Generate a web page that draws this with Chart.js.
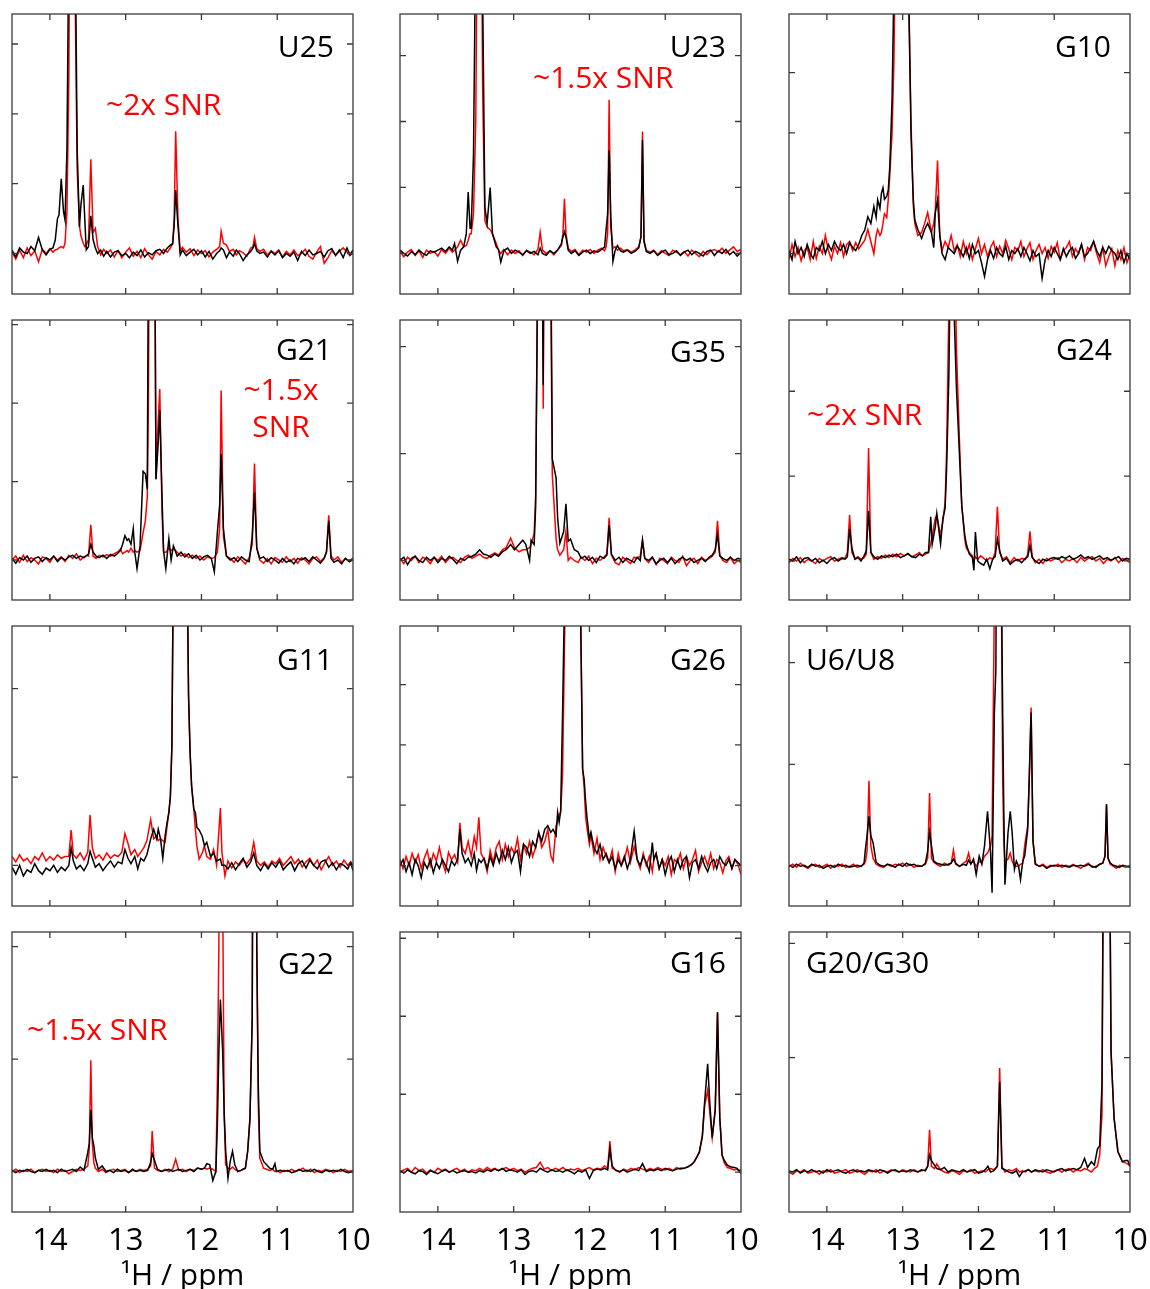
<!DOCTYPE html>
<html>
<head>
<meta charset="utf-8">
<title>Imino 1H spectra</title>
<script src="https://cdn.jsdelivr.net/npm/chart.js@4.4.1/dist/chart.umd.min.js"></script>
<style>
  html, body { margin: 0; padding: 0; background: #fff; overflow: hidden; }
  body { width: 1150px; height: 1289px; position: relative; font-family: 'Open Sans', sans-serif; }
  canvas { position: absolute; }
  .lbl { position: absolute; font-size: 30px; line-height: 1; white-space: nowrap; color: #000; z-index: 2; }
  .snr { color: #ff0000; }
  .two { line-height: 37px; text-align: center; width: 140px; }
  .axt { position: absolute; font-size: 30px; line-height: 1; width: 240px; text-align: center; white-space: nowrap; }
</style>
</head>
<body>
<script>
// ---- data: chemical shift (ppm) per panel, red and black traces in panel units ----
const ppmTicks = [14, 13, 12, 11, 10];
const panelNames = ['U25', 'U23', 'G10', 'G21', 'G35', 'G24', 'G11', 'G26', 'U6/U8', 'G22', 'G16', 'G20/G30'];

const u25Ppm = [14.50, 14.45, 14.40, 14.35, 14.30, 14.25, 14.20, 14.15, 14.10, 14.05,
  14.00, 13.96, 13.93, 13.90, 13.88, 13.85, 13.82, 13.80, 13.775, 13.75,
  13.71, 13.665, 13.64, 13.61, 13.59, 13.56, 13.54, 13.52, 13.49, 13.46,
  13.43, 13.40, 13.37, 13.33, 13.29, 13.25, 13.20, 13.15, 13.10, 13.05,
  13.00, 12.95, 12.90, 12.85, 12.80, 12.75, 12.70, 12.65, 12.60, 12.55,
  12.50, 12.45, 12.41, 12.38, 12.36, 12.34, 12.31, 12.28, 12.25, 12.20,
  12.15, 12.10, 12.05, 12.00, 11.95, 11.90, 11.85, 11.80, 11.76, 11.74,
  11.71, 11.67, 11.63, 11.58, 11.54, 11.50, 11.45, 11.40, 11.35, 11.32,
  11.30, 11.27, 11.23, 11.18, 11.13, 11.08, 11.03, 10.98, 10.93, 10.88,
  10.83, 10.78, 10.73, 10.68, 10.63, 10.58, 10.53, 10.48, 10.43, 10.38,
  10.33, 10.28, 10.23, 10.18, 10.13, 10.08, 10.04, 10.00];
const u25Red = [0.02, -0.08, 0.05, -0.06, 0.08, -0.03, 0.04, -0.12, 0.06, 0.00,
  0.07, 0.02, 0.05, 0.06, 0.08, 0.10, 0.08, 0.15, 0.6, 2.5,
  10, 3.5, 1.2, 0.4, 0.25, 0.15, 0.1, 0.12, 0.2, 1.35,
  0.3, 0.36, 0.1, -0.02, 0.06, 0.0, 0.05, -0.05, 0.04, -0.06,
  0.02, 0.08, -0.04, 0.03, -0.06, 0.07, -0.02, -0.08, 0.03, -0.02,
  0.06, 0.02, 0.08, 0.14, 0.5, 1.75, 0.5, 0.04, 0.09, 0.02,
  0.07, -0.03, 0.05, 0.0, 0.04, -0.05, 0.02, 0.06, 0.1, 0.32,
  0.15, 0.12, 0.03, 0.06, -0.02, 0.04, 0.01, -0.04, 0.08, 0.1,
  0.23, 0.07, 0.03, 0.06, -0.02, 0.04, 0.0, 0.05, -0.05, 0.03,
  -0.02, 0.05, -0.03, 0.0, 0.06, -0.04, -0.08, 0.02, 0.1, -0.14,
  -0.06, 0.04, -0.02, 0.03, 0.08, 0.02, -0.03, 0.01];
const u25Black = [0.05, -0.05, 0.08, 0.02, 0.0, 0.1, 0.04, 0.23, 0.05, -0.02,
  0.06, 0.08, 0.19, 0.5, 0.55, 1.07, 0.6, 0.48, 1.5, 4.5,
  10, 4.5, 1.5, 0.38, 0.7, 0.98, 0.5, 0.05, 0.1, 0.54,
  0.2, 0.08, 0.0, 0.05, -0.04, 0.03, -0.05, 0.02, 0.04, -0.03,
  0.0, -0.06, 0.02, -0.03, 0.05, -0.05, 0.01, -0.02, 0.04, 0.06,
  0.0, 0.08, 0.12, 0.14, 0.4, 0.91, 0.4, -0.02, 0.05, -0.03,
  0.02, 0.06, -0.02, 0.04, -0.05, 0.03, -0.08, 0.0, 0.04, 0.08,
  0.05, -0.06, 0.02, -0.04, 0.05, 0.0, -0.1, -0.02, 0.03, 0.08,
  0.14, 0.04, 0.0, 0.02, -0.05, 0.03, -0.02, 0.04, -0.06, 0.0,
  -0.04, 0.02, -0.1, 0.03, -0.03, 0.05, -0.02, 0.0, 0.03, -0.05,
  0.04, 0.07, -0.03, 0.05, -0.06, 0.08, -0.02, 0.05];

const u23Ppm = [14.50, 14.45, 14.40, 14.35, 14.30, 14.25, 14.20, 14.15, 14.10, 14.05,
  14.00, 13.95, 13.90, 13.85, 13.81, 13.78, 13.74, 13.70, 13.66, 13.625,
  13.60, 13.575, 13.56, 13.53, 13.50, 13.45, 13.41, 13.38, 13.35, 13.31,
  13.28, 13.23, 13.20, 13.17, 13.13, 13.08, 13.03, 12.98, 12.93, 12.88,
  12.83, 12.78, 12.73, 12.68, 12.65, 12.62, 12.57, 12.52, 12.47, 12.42,
  12.37, 12.35, 12.33, 12.31, 12.28, 12.24, 12.19, 12.14, 12.09, 12.04,
  11.99, 11.94, 11.89, 11.84, 11.80, 11.78, 11.76, 11.74, 11.72, 11.69,
  11.66, 11.63, 11.59, 11.55, 11.50, 11.45, 11.40, 11.35, 11.32, 11.30,
  11.28, 11.25, 11.20, 11.15, 11.10, 11.05, 11.00, 10.95, 10.90, 10.85,
  10.80, 10.75, 10.70, 10.65, 10.60, 10.55, 10.50, 10.45, 10.40, 10.35,
  10.30, 10.25, 10.20, 10.15, 10.10, 10.05, 10.00];
const u23Red = [0.03, -0.05, 0.02, 0.06, -0.03, 0.04, -0.06, 0.05, 0.0, 0.03,
  -0.04, 0.06, 0.0, 0.08, 0.02, 0.05, 0.1, 0.2, 0.1, 0.12,
  0.2, 0.3, 0.3, 0.6, 2.0, 10, 2.5, 0.5, 0.4, 0.36,
  0.3, 0.15, 0.05, 0.0, 0.06, -0.02, 0.05, 0.0, 0.04, -0.03,
  0.05, 0.02, -0.02, 0.06, 0.32, 0.05, 0.0, 0.04, -0.02, 0.05,
  0.12, 0.3, 0.83, 0.3, 0.08, 0.03, 0.06, -0.02, 0.05, 0.02,
  0.06, 0.0, 0.05, 0.08, 0.04, 0.1, 0.3, 2.33, 0.4, 0.08,
  0.1, 0.05, 0.08, 0.04, 0.06, 0.02, 0.05, 0.1, 0.25, 1.85,
  0.2, 0.05, 0.02, 0.05, -0.02, 0.04, 0.0, -0.03, 0.05, 0.02,
  -0.02, 0.03, -0.04, 0.05, 0.0, -0.05, 0.03, -0.02, 0.04, 0.06,
  0.02, 0.08, 0.0, 0.05, 0.1, 0.03, 0.06];
const u23Black = [0.05, 0.0, -0.04, 0.03, -0.02, 0.05, 0.0, -0.03, 0.04, 0.02,
  0.05, 0.08, 0.03, 0.1, 0.05, 0.15, -0.12, 0.05, 0.1, 0.3,
  0.93, 0.38, 0.38, 1.5, 5, 10, 4, 0.7, 0.46, 1.0,
  0.3, 0.1, 0.06, -0.13, 0.04, 0.08, 0.0, 0.05, 0.02, -0.02,
  0.04, 0.0, 0.03, -0.02, 0.08, 0.0, -0.03, 0.04, 0.0, 0.05,
  0.15, 0.25, 0.33, 0.25, 0.05, 0.0, 0.04, -0.03, 0.02, 0.05,
  0.0, 0.04, 0.02, 0.06, 0.1, 0.36, 0.6, 1.56, 0.6, -0.12,
  0.05, 0.12, 0.04, 0.02, 0.05, 0.0, 0.03, 0.08, 0.25, 1.72,
  0.18, 0.03, 0.0, 0.04, -0.03, 0.02, 0.05, -0.02, 0.0, 0.04,
  -0.03, 0.02, 0.05, -0.02, 0.03, 0.0, -0.04, 0.03, 0.05, -0.03,
  0.04, 0.0, 0.06, -0.02, 0.03, -0.04, 0.02];

const g10Ppm = [14.50, 14.46, 14.42, 14.38, 14.34, 14.30, 14.26, 14.22, 14.18, 14.14,
  14.10, 14.06, 14.02, 13.98, 13.94, 13.90, 13.86, 13.82, 13.78, 13.74,
  13.70, 13.66, 13.62, 13.58, 13.54, 13.50, 13.46, 13.42, 13.38, 13.35,
  13.33, 13.30, 13.28, 13.26, 13.24, 13.21, 13.19, 13.17, 13.14, 13.115,
  13.03, 12.93, 12.89, 12.86, 12.84, 12.80, 12.75, 12.71, 12.67, 12.62,
  12.59, 12.57, 12.54, 12.51, 12.48, 12.44, 12.40, 12.36, 12.32, 12.28,
  12.24, 12.20, 12.16, 12.12, 12.08, 12.04, 12.00, 11.96, 11.92, 11.88,
  11.84, 11.80, 11.76, 11.72, 11.68, 11.64, 11.60, 11.56, 11.52, 11.48,
  11.44, 11.40, 11.36, 11.32, 11.28, 11.24, 11.20, 11.16, 11.12, 11.08,
  11.04, 11.00, 10.96, 10.92, 10.88, 10.84, 10.80, 10.76, 10.72, 10.68,
  10.64, 10.60, 10.56, 10.52, 10.48, 10.44, 10.40, 10.36, 10.32, 10.28,
  10.24, 10.20, 10.16, 10.12, 10.08, 10.04, 10.00];
const g10Red = [-0.1, 0.15, -0.05, 0.1, -0.12, 0.05, 0.1, -0.1, 0.2, -0.08,
  0.12, 0.0, 0.3, 0.05, -0.1, 0.12, 0.0, 0.18, -0.05, 0.15,
  0.2, 0.05, 0.18, 0.08, 0.15, 0.22, 0.4, 0.2, 0.0, 0.3,
  0.4, 0.3, 0.35, 0.5, 0.66, 0.6, 0.9, 1.3, 2.0, 3.2,
  12, 5, 2.2, 0.8, 0.5, 0.3, 0.35, 0.5, 0.68, 0.35,
  0.5, 0.7, 1.54, 0.3, 0.05, 0.2, 0.1, 0.3, 0.05, 0.15,
  -0.05, 0.2, 0.0, 0.15, -0.1, 0.08, 0.25, 0.0, 0.15, -0.05,
  0.1, 0.2, -0.05, 0.12, 0.0, 0.22, 0.08, -0.1, 0.1, 0.05,
  0.2, -0.05, 0.08, 0.18, -0.1, 0.05, 0.15, 0.0, 0.1, -0.08,
  0.12, 0.02, 0.18, -0.1, 0.05, 0.1, 0.2, -0.05, 0.08, 0.0,
  0.15, -0.1, 0.1, 0.05, 0.2, 0.0, -0.15, 0.1, -0.2, -0.05,
  0.08, -0.2, 0.05, -0.1, 0.1, -0.15, 0.0];
const g10Black = [0.05, -0.1, 0.2, 0.0, 0.1, -0.05, 0.15, 0.0, -0.08, 0.1,
  0.05, 0.2, 0.0, 0.15, 0.05, 0.2, 0.1, 0.05, 0.15, 0.0,
  0.18, 0.1, 0.05, 0.15, 0.3, 0.39, 0.61, 0.5, 0.78, 0.6,
  0.89, 0.75, 1.0, 1.09, 0.9, 0.95, 1.05, 1.44, 2.55, 4.5,
  12, 5, 2.0, 0.9, 0.56, 0.4, 0.25, 0.4, 0.5, 0.35,
  0.1, 0.67, 0.89, 0.3, 0.0, -0.1, 0.1, 0.05, 0.0, 0.12,
  0.05, -0.05, 0.1, -0.08, 0.15, 0.0, 0.05, -0.15, -0.38, -0.1,
  0.05, -0.08, 0.1, 0.0, -0.05, 0.12, -0.1, 0.05, 0.0, 0.08,
  -0.05, 0.1, 0.0, -0.12, 0.05, -0.05, 0.0, -0.41, -0.1, 0.05,
  -0.05, 0.1, 0.0, -0.1, 0.08, -0.05, 0.05, 0.1, -0.08, 0.0,
  0.15, -0.05, 0.0, 0.1, 0.2, 0.05, -0.05, 0.1, 0.0, 0.12,
  0.05, 0.0, -0.1, 0.05, -0.15, 0.0, -0.1];

const g21Ppm = [14.50, 14.45, 14.40, 14.35, 14.30, 14.25, 14.20, 14.15, 14.10, 14.05,
  14.00, 13.95, 13.90, 13.85, 13.80, 13.75, 13.70, 13.65, 13.60, 13.55,
  13.51, 13.49, 13.46, 13.43, 13.39, 13.35, 13.30, 13.25, 13.20, 13.15,
  13.11, 13.07, 13.04, 13.01, 12.98, 12.96, 12.93, 12.90, 12.88, 12.85,
  12.81, 12.77, 12.74, 12.715, 12.70, 12.65, 12.615, 12.60, 12.57, 12.55,
  12.52, 12.50, 12.47, 12.43, 12.40, 12.37, 12.32, 12.27, 12.22, 12.17,
  12.12, 12.07, 12.02, 11.97, 11.92, 11.87, 11.83, 11.79, 11.76, 11.74,
  11.71, 11.67, 11.62, 11.57, 11.52, 11.47, 11.42, 11.37, 11.33, 11.30,
  11.27, 11.23, 11.18, 11.13, 11.08, 11.03, 10.98, 10.93, 10.88, 10.83,
  10.78, 10.73, 10.68, 10.63, 10.58, 10.53, 10.48, 10.43, 10.38, 10.35,
  10.32, 10.29, 10.25, 10.20, 10.15, 10.10, 10.05, 10.00];
const g21Red = [0.0, 0.05, -0.03, 0.06, -0.02, 0.03, 0.0, -0.05, 0.04, 0.02,
  -0.03, 0.05, 0.0, 0.04, -0.02, 0.06, 0.02, 0.08, 0.0, 0.04,
  0.06, 0.05, 0.45, 0.05, 0.02, 0.06, 0.04, 0.07, 0.05, 0.08,
  0.1, 0.14, 0.08, 0.1, 0.12, 0.1, 0.15, 0.1, 0.12, 0.1,
  0.12, 0.35, 0.5, 0.8, 2.0, 12, 4, 1.03, 1.8, 2.18,
  0.6, 0.1, 0.1, 0.15, 0.12, 0.15, 0.1, 0.05, 0.08, 0.03,
  0.06, 0.02, 0.05, 0.0, 0.04, 0.02, 0.03, 0.1, 0.4, 2.16,
  0.3, 0.05, 0.02, -0.03, 0.04, 0.0, -0.05, 0.03, 0.2, 1.23,
  0.15, 0.0, -0.04, 0.02, -0.05, 0.03, 0.0, -0.03, 0.04, -0.02,
  0.02, -0.04, 0.03, 0.0, -0.05, 0.02, 0.04, -0.02, 0.03, 0.1,
  0.57, 0.05, 0.0, 0.04, -0.03, 0.02, -0.02, 0.03];
const g21Black = [0.02, -0.04, 0.03, 0.0, 0.05, -0.03, 0.02, 0.04, -0.02, 0.03,
  0.0, 0.05, -0.02, 0.03, 0.0, 0.04, 0.06, 0.02, 0.05, 0.03,
  0.06, 0.08, 0.2, 0.1, 0.05, 0.03, 0.06, 0.02, 0.07, 0.05,
  0.08, 0.12, 0.2, 0.31, 0.25, 0.27, 0.2, 0.4, 0.1, -0.11,
  0.18, 1.13, 1.1, 0.9, 4, 12, 4, 1.03, 1.5, 1.91,
  0.8, 0.12, -0.11, 0.27, 0.0, 0.18, 0.05, 0.1, 0.04, 0.08,
  0.02, 0.06, 0.0, 0.04, 0.06, 0.02, -0.15, 0.35, 0.7, 1.35,
  0.4, 0.05, 0.0, 0.03, -0.02, 0.04, 0.0, -0.02, 0.3, 0.86,
  0.15, 0.02, 0.04, -0.02, 0.03, 0.0, -0.04, 0.02, -0.03, 0.0,
  -0.05, 0.02, 0.0, 0.03, -0.02, 0.04, 0.0, -0.04, 0.02, 0.1,
  0.5, 0.02, -0.03, 0.0, -0.05, 0.02, -0.02, 0.0];

const g35Ppm = [14.50, 14.45, 14.40, 14.35, 14.30, 14.25, 14.20, 14.15, 14.10, 14.05,
  14.00, 13.95, 13.90, 13.85, 13.80, 13.75, 13.70, 13.65, 13.60, 13.55,
  13.50, 13.45, 13.40, 13.35, 13.30, 13.25, 13.20, 13.15, 13.10, 13.04,
  12.99, 12.93, 12.88, 12.84, 12.79, 12.77, 12.73, 12.71, 12.68, 12.65,
  12.61, 12.59, 12.54, 12.51, 12.49, 12.44, 12.42, 12.39, 12.34, 12.31,
  12.28, 12.25, 12.20, 12.15, 12.11, 12.06, 12.01, 11.96, 11.91, 11.86,
  11.81, 11.77, 11.74, 11.71, 11.66, 11.61, 11.56, 11.51, 11.46, 11.41,
  11.37, 11.33, 11.30, 11.27, 11.22, 11.17, 11.12, 11.07, 11.02, 10.97,
  10.92, 10.87, 10.82, 10.77, 10.72, 10.67, 10.62, 10.57, 10.52, 10.47,
  10.42, 10.38, 10.34, 10.31, 10.28, 10.24, 10.19, 10.14, 10.09, 10.04,
  10.00];
const g35Red = [0.02, -0.03, 0.03, 0.0, 0.04, -0.02, 0.03, 0.01, -0.03, 0.03,
  0.0, 0.04, -0.02, 0.02, 0.03, 0.0, -0.02, 0.03, 0.05, 0.02,
  0.04, 0.06, 0.03, 0.02, 0.05, 0.07, 0.05, 0.1, 0.12, 0.21,
  0.12, 0.08, 0.1, 0.1, 0.12, 0.15, 0.25, 0.6, 3, 6,
  1.42, 5, 6, 2.5, 0.8, 0.2, 0.1, 0.05, 0.1, 0.27,
  0.0, 0.03, 0.0, -0.02, 0.03, 0.0, 0.04, -0.03, 0.02, 0.0,
  0.03, 0.06, 0.4, 0.05, -0.02, -0.04, 0.03, 0.0, -0.03, 0.03,
  0.02, 0.04, 0.19, 0.02, -0.02, 0.03, -0.04, 0.02, 0.0, -0.03,
  0.03, 0.0, -0.02, 0.04, -0.05, 0.0, 0.02, -0.03, 0.03, 0.0,
  0.02, 0.04, 0.08, 0.37, 0.05, 0.0, -0.02, 0.03, -0.03, 0.0,
  -0.02];
const g35Black = [0.0, 0.03, -0.04, 0.02, 0.04, 0.0, -0.02, 0.03, 0.0, 0.03,
  -0.02, 0.02, 0.0, 0.04, 0.01, -0.03, 0.02, 0.0, 0.03, 0.04,
  0.06, 0.1, 0.06, 0.05, 0.03, 0.06, 0.04, 0.08, 0.1, 0.15,
  0.1, 0.15, 0.19, 0.15, 0.0, 0.19, 0.15, 0.5, 3, 6,
  1.64, 5, 6, 3, 0.95, 0.77, 0.4, 0.16, 0.27, 0.53,
  0.18, 0.2, 0.1, 0.08, 0.02, 0.04, 0.0, 0.03, -0.02, 0.04,
  0.02, 0.05, 0.33, 0.06, 0.0, 0.03, -0.02, 0.02, 0.0, -0.02,
  0.03, 0.0, 0.19, 0.02, 0.0, 0.03, -0.03, 0.0, 0.02, -0.02,
  0.02, -0.03, 0.01, 0.03, 0.0, 0.02, -0.02, 0.0, 0.02, -0.01,
  0.03, 0.05, 0.1, 0.24, 0.04, 0.02, 0.0, 0.03, 0.0, 0.02,
  0.01];

const g24Ppm = [14.50, 14.45, 14.40, 14.35, 14.30, 14.25, 14.20, 14.15, 14.10, 14.05,
  14.00, 13.95, 13.90, 13.85, 13.80, 13.76, 13.73, 13.70, 13.67, 13.63,
  13.59, 13.55, 13.51, 13.48, 13.45, 13.42, 13.38, 13.33, 13.28, 13.23,
  13.18, 13.13, 13.08, 13.03, 12.98, 12.93, 12.88, 12.83, 12.78, 12.74,
  12.70, 12.66, 12.63, 12.61, 12.57, 12.55, 12.50, 12.47, 12.44, 12.42,
  12.39, 12.35, 12.32, 12.29, 12.25, 12.22, 12.18, 12.16, 12.12, 12.08,
  12.06, 12.04, 12.01, 11.97, 11.93, 11.89, 11.85, 11.81, 11.78, 11.75,
  11.72, 11.68, 11.63, 11.58, 11.53, 11.48, 11.43, 11.38, 11.35, 11.32,
  11.29, 11.25, 11.20, 11.15, 11.10, 11.05, 11.00, 10.95, 10.90, 10.85,
  10.80, 10.75, 10.70, 10.65, 10.60, 10.55, 10.50, 10.45, 10.40, 10.35,
  10.30, 10.25, 10.20, 10.15, 10.10, 10.05, 10.00];
const g24Red = [-0.02, 0.03, 0.0, 0.04, -0.02, 0.02, 0.0, -0.03, 0.03, 0.0,
  0.03, 0.05, 0.0, 0.02, 0.04, 0.03, 0.1, 0.54, 0.1, 0.03,
  0.05, 0.02, 0.04, 0.08, 1.33, 0.1, 0.02, 0.05, 0.03, 0.07,
  0.04, 0.08, 0.05, 0.09, 0.06, 0.08, 0.05, 0.07, 0.1, 0.06,
  0.08, 0.1, 0.2, 0.3, 0.5, 0.54, 0.3, 0.46, 0.69, 1.3,
  3.0, 8, 4, 2.5, 1.4, 0.65, 0.25, 0.15, 0.1, 0.06,
  0.0, 0.05, 0.02, 0.06, 0.03, 0.0, 0.04, 0.02, 0.1, 0.64,
  0.1, 0.02, 0.05, -0.02, 0.04, 0.0, 0.03, 0.02, 0.08, 0.35,
  0.05, -0.02, 0.02, -0.03, 0.03, 0.0, 0.02, 0.04, -0.02, 0.02,
  0.0, 0.03, -0.02, 0.04, 0.0, 0.03, 0.05, 0.0, 0.03, -0.03,
  0.02, 0.0, 0.04, -0.02, 0.03, 0.01, -0.02];
const g24Black = [0.02, 0.0, 0.05, -0.02, 0.03, 0.04, 0.0, 0.03, -0.02, 0.01,
  -0.03, 0.02, 0.04, 0.0, 0.03, 0.02, 0.05, 0.38, 0.15, 0.02,
  0.04, 0.0, 0.06, 0.12, 0.59, 0.1, 0.05, 0.02, 0.06, 0.04,
  0.07, 0.05, 0.08, 0.04, 0.06, 0.09, 0.05, 0.04, 0.08, 0.06,
  0.1, 0.1, 0.52, 0.2, 0.4, 0.56, 0.2, 0.5, 0.62, 1.09,
  2.2, 5, 2.9, 2.03, 1.24, 0.65, 0.3, 0.2, 0.08, 0.04,
  -0.11, 0.34, 0.0, -0.03, -0.05, 0.02, -0.09, 0.03, 0.05, 0.26,
  0.12, 0.0, 0.03, -0.04, 0.0, 0.02, -0.02, 0.03, 0.05, 0.18,
  0.04, 0.0, -0.03, 0.02, 0.0, 0.03, 0.04, 0.02, 0.05, 0.03,
  0.06, 0.02, 0.04, 0.07, 0.03, 0.05, 0.02, 0.04, 0.06, 0.02,
  0.04, 0.01, 0.03, 0.05, 0.0, 0.03, 0.02];

const g11Ppm = [14.50, 14.45, 14.40, 14.35, 14.30, 14.25, 14.20, 14.15, 14.10, 14.05,
  14.00, 13.95, 13.90, 13.85, 13.80, 13.75, 13.72, 13.69, 13.65, 13.60,
  13.55, 13.50, 13.47, 13.44, 13.40, 13.35, 13.30, 13.25, 13.20, 13.15,
  13.10, 13.05, 13.01, 12.97, 12.93, 12.88, 12.84, 12.80, 12.76, 12.72,
  12.67, 12.63, 12.59, 12.57, 12.54, 12.51, 12.48, 12.46, 12.43, 12.41,
  12.39, 12.37, 12.28, 12.19, 12.17, 12.15, 12.13, 12.10, 12.08, 12.06,
  12.03, 11.99, 11.96, 11.93, 11.88, 11.84, 11.80, 11.75, 11.73, 11.69,
  11.65, 11.60, 11.55, 11.50, 11.45, 11.40, 11.35, 11.31, 11.27, 11.22,
  11.17, 11.12, 11.07, 11.02, 10.97, 10.92, 10.87, 10.82, 10.77, 10.72,
  10.67, 10.62, 10.57, 10.52, 10.47, 10.42, 10.37, 10.32, 10.27, 10.22,
  10.17, 10.12, 10.07, 10.03, 10.00];
const g11Red = [0.1, 0.04, 0.12, 0.05, 0.08, 0.02, 0.1, 0.06, 0.14, 0.05,
  0.1, 0.06, 0.12, 0.08, 0.1, 0.1, 0.4, 0.12, 0.08, 0.14,
  0.06, 0.15, 0.57, 0.2, 0.08, 0.12, 0.06, 0.14, 0.08, 0.12,
  0.1, 0.15, 0.36, 0.25, 0.12, 0.18, 0.1, 0.15, 0.2, 0.28,
  0.52, 0.3, 0.33, 0.28, 0.3, 0.28, 0.26, 0.4, 0.6, 0.78,
  1.35, 3.5, 12, 3.5, 1.92, 1.28, 0.9, 0.63, 0.41, 0.22,
  0.07, 0.14, 0.22, 0.1, 0.07, 0.18, 0.0, 0.65, 0.15, -0.12,
  0.05, -0.03, 0.04, 0.0, 0.06, 0.02, 0.08, 0.26, 0.05, 0.0,
  0.04, -0.02, 0.05, 0.02, 0.08, 0.0, 0.05, 0.1, 0.02, 0.07,
  -0.02, 0.04, 0.08, 0.0, 0.06, -0.05, 0.03, 0.1, 0.0, 0.05,
  -0.02, 0.06, 0.0, 0.04, 0.0];
const g11Black = [-0.02, -0.1, 0.0, -0.12, -0.05, -0.08, 0.02, -0.06, -0.1, -0.03,
  -0.06, 0.0, -0.08, -0.02, -0.06, 0.0, 0.2, 0.05, -0.04, 0.0,
  -0.06, 0.02, 0.16, 0.08, -0.02, 0.02, -0.06, 0.0, 0.05, -0.02,
  0.04, 0.02, 0.18, 0.08, 0.02, 0.1, -0.04, 0.08, 0.05, 0.12,
  0.3, 0.41, 0.3, 0.41, 0.3, 0.08, 0.33, 0.45, 0.6, 0.78,
  1.35, 3.5, 12, 3.5, 1.92, 1.28, 0.9, 0.63, 0.6, 0.43,
  0.4, 0.33, 0.22, 0.26, 0.1, 0.14, 0.05, 0.07, 0.0, 0.0,
  -0.04, 0.03, -0.05, 0.02, 0.08, -0.02, 0.04, 0.14, 0.0, -0.06,
  0.02, -0.04, 0.03, -0.02, 0.05, -0.05, 0.0, 0.04, -0.06, 0.02,
  0.05, -0.03, 0.06, 0.0, -0.04, 0.04, 0.06, -0.02, 0.03, -0.05,
  0.02, 0.0, -0.04, 0.03, -0.06];

const g26Ppm = [14.50, 14.46, 14.42, 14.38, 14.34, 14.30, 14.26, 14.22, 14.18, 14.14,
  14.10, 14.06, 14.02, 13.98, 13.94, 13.90, 13.86, 13.82, 13.78, 13.74,
  13.71, 13.68, 13.64, 13.60, 13.56, 13.52, 13.49, 13.46, 13.43, 13.39,
  13.35, 13.31, 13.27, 13.23, 13.19, 13.15, 13.11, 13.07, 13.03, 12.99,
  12.95, 12.91, 12.87, 12.83, 12.79, 12.75, 12.71, 12.67, 12.63, 12.59,
  12.55, 12.51, 12.48, 12.44, 12.42, 12.40, 12.38, 12.355, 12.23, 12.12,
  12.09, 12.07, 12.05, 12.03, 12.00, 11.98, 11.94, 11.90, 11.86, 11.82,
  11.78, 11.74, 11.70, 11.66, 11.62, 11.58, 11.54, 11.50, 11.46, 11.41,
  11.37, 11.33, 11.29, 11.25, 11.21, 11.17, 11.15, 11.12, 11.08, 11.04,
  11.00, 10.96, 10.92, 10.88, 10.84, 10.80, 10.76, 10.72, 10.68, 10.64,
  10.60, 10.56, 10.52, 10.48, 10.44, 10.40, 10.36, 10.32, 10.28, 10.24,
  10.20, 10.16, 10.12, 10.08, 10.04, 10.00];
const g26Red = [0.1, -0.05, 0.15, 0.0, 0.2, 0.05, 0.18, -0.05, 0.12, 0.25,
  0.0, 0.2, 0.08, 0.3, 0.05, -0.1, 0.22, 0.1, 0.18, 0.05,
  0.71, 0.3, 0.2, 0.4, 0.15, 0.48, 0.3, 0.8, 0.2, 0.1,
  -0.1, 0.25, 0.05, 0.3, 0.4, 0.1, 0.35, 0.15, 0.3, 0.2,
  0.45, 0.1, 0.35, 0.2, 0.4, 0.15, 0.3, 0.55, 0.3, 0.4,
  0.6, 0.16, 0.07, 0.66, 0.75, 0.85, 0.88, 1.5, 12, 4.5,
  1.6, 1.3, 0.8, 0.6, 0.35, 0.5, 0.2, 0.45, 0.1, 0.3,
  0.15, 0.05, 0.25, -0.1, 0.2, 0.0, 0.1, 0.3, 0.05, 0.32,
  0.1, -0.05, 0.2, 0.0, 0.15, -0.1, 0.1, 0.2, -0.05, 0.1,
  0.0, 0.15, -0.15, 0.1, 0.05, 0.2, -0.05, 0.15, 0.0, 0.1,
  0.25, -0.1, 0.05, 0.15, 0.0, 0.2, -0.05, 0.1, 0.05, -0.12,
  0.08, 0.15, -0.05, 0.1, 0.02, -0.15];
const g26Black = [0.0, 0.1, -0.1, 0.05, -0.15, 0.1, 0.0, -0.2, 0.05, -0.05,
  0.1, -0.12, 0.05, -0.05, 0.1, 0.0, -0.1, 0.08, 0.0, 0.1,
  0.6, 0.2, 0.05, 0.12, 0.0, 0.2, -0.08, 0.1, 0.05, 0.12,
  -0.05, 0.15, 0.0, 0.2, 0.05, 0.25, 0.1, 0.3, 0.05, 0.2,
  0.25, -0.1, 0.35, 0.3, 0.15, 0.4, 0.3, 0.55, 0.4, 0.6,
  0.66, 0.55, 0.6, 0.5, 0.88, 0.72, 0.9, 2.5, 12, 4.5,
  1.6, 1.43, 1.05, 0.77, 0.44, 0.55, 0.3, 0.2, 0.35, 0.1,
  0.2, 0.05, 0.15, -0.05, 0.1, 0.0, 0.15, -0.05, 0.1, 0.57,
  0.1, 0.0, 0.15, 0.05, -0.1, 0.38, 0.1, 0.2, -0.05, 0.1,
  -0.15, 0.05, 0.15, -0.1, 0.1, -0.05, 0.1, 0.15, -0.2, 0.05,
  0.1, -0.05, 0.15, 0.0, -0.1, 0.05, 0.1, -0.05, 0.15, 0.05,
  0.0, 0.1, -0.05, 0.1, 0.05, 0.0];

const u6u8Ppm = [14.50, 14.45, 14.40, 14.35, 14.30, 14.25, 14.20, 14.15, 14.10, 14.05,
  14.00, 13.95, 13.90, 13.85, 13.80, 13.75, 13.70, 13.65, 13.60, 13.55,
  13.51, 13.49, 13.47, 13.445, 13.42, 13.39, 13.35, 13.30, 13.25, 13.20,
  13.15, 13.10, 13.05, 13.00, 12.95, 12.90, 12.85, 12.80, 12.75, 12.70,
  12.67, 12.645, 12.62, 12.59, 12.55, 12.50, 12.45, 12.40, 12.36, 12.33,
  12.30, 12.25, 12.20, 12.16, 12.13, 12.10, 12.065, 12.03, 11.99, 11.955,
  11.92, 11.88, 11.84, 11.82, 11.79, 11.77, 11.735, 11.70, 11.68, 11.665,
  11.65, 11.61, 11.58, 11.555, 11.525, 11.50, 11.47, 11.445, 11.415, 11.39,
  11.35, 11.33, 11.305, 11.28, 11.25, 11.20, 11.15, 11.10, 11.05, 11.00,
  10.95, 10.90, 10.85, 10.80, 10.75, 10.70, 10.65, 10.60, 10.55, 10.50,
  10.45, 10.40, 10.36, 10.33, 10.31, 10.29, 10.26, 10.22, 10.18, 10.14,
  10.10, 10.05, 10.00];
const u6u8Red = [0.0, 0.02, -0.01, 0.03, 0.0, -0.02, 0.01, 0.02, -0.01, 0.0,
  0.02, -0.02, 0.01, 0.0, 0.02, -0.01, 0.0, 0.02, -0.01, 0.0,
  0.02, 0.05, 0.15, 0.84, 0.2, 0.08, 0.02, 0.0, -0.01, 0.02,
  0.0, 0.02, 0.01, 0.03, 0.0, 0.02, -0.01, 0.01, 0.0, 0.02,
  0.08, 0.72, 0.08, 0.04, 0.02, 0.0, 0.03, 0.01, 0.03, 0.16,
  0.02, 0.0, 0.03, 0.05, 0.13, 0.03, 0.05, 0.0, 0.05, 0.03,
  0.1, 0.13, 0.2, 0.3, 2.6, 4, 8, 3.0, 0.85, 0.25,
  0.05, 0.07, 0.13, 0.05, 0.0, 0.0, 0.0, 0.02, 0.03, 0.2,
  0.4, 0.85, 1.56, 0.25, 0.03, 0.0, 0.02, -0.01, 0.01, 0.0,
  0.02, -0.01, 0.01, 0.0, 0.02, 0.0, -0.02, 0.01, 0.03, -0.01,
  0.0, 0.02, 0.03, 0.1, 0.61, 0.08, 0.02, 0.0, -0.02, 0.01,
  0.0, -0.01, 0.01];
const u6u8Black = [0.01, -0.01, 0.02, 0.0, 0.01, -0.01, 0.02, 0.0, 0.01, -0.02,
  0.0, 0.01, -0.01, 0.02, 0.0, 0.01, -0.01, 0.0, 0.01, 0.0,
  0.03, 0.18, 0.3, 0.49, 0.3, 0.23, 0.04, 0.01, 0.0, 0.02,
  0.01, -0.01, 0.02, 0.0, 0.03, 0.01, 0.02, 0.0, 0.0, 0.03,
  0.15, 0.34, 0.2, 0.05, 0.03, 0.02, 0.01, 0.02, 0.03, 0.07,
  0.03, 0.0, 0.02, 0.01, 0.06, 0.02, 0.07, -0.08, 0.1, 0.02,
  0.2, 0.54, 0.13, -0.26, 1.5, 1.93, 8, 3.0, 1.5, 0.52,
  -0.18, 0.33, 0.54, 0.33, -0.03, 0.05, 0.0, -0.13, 0.05, 0.1,
  0.36, 0.85, 1.51, 0.25, 0.02, 0.0, 0.01, -0.02, 0.0, 0.01,
  0.0, 0.01, 0.0, -0.01, 0.01, 0.0, 0.01, 0.0, 0.02, 0.0,
  -0.01, 0.02, 0.03, 0.1, 0.61, 0.08, 0.03, 0.01, 0.0, -0.01,
  0.01, 0.0, -0.01];

const g22Ppm = [14.50, 14.45, 14.40, 14.35, 14.30, 14.25, 14.20, 14.15, 14.10, 14.05,
  14.00, 13.95, 13.90, 13.85, 13.80, 13.75, 13.70, 13.65, 13.60, 13.55,
  13.50, 13.48, 13.46, 13.44, 13.42, 13.40, 13.36, 13.31, 13.26, 13.21,
  13.16, 13.11, 13.06, 13.01, 12.96, 12.91, 12.86, 12.81, 12.76, 12.71,
  12.67, 12.65, 12.62, 12.58, 12.53, 12.48, 12.43, 12.38, 12.34, 12.30,
  12.25, 12.20, 12.15, 12.10, 12.05, 12.00, 11.96, 11.93, 11.89, 11.85,
  11.81, 11.79, 11.77, 11.75, 11.72, 11.70, 11.68, 11.65, 11.62, 11.59,
  11.56, 11.52, 11.48, 11.45, 11.42, 11.39, 11.36, 11.33, 11.30, 11.27,
  11.25, 11.23, 11.18, 11.14, 11.10, 11.06, 11.03, 11.01, 10.96, 10.91,
  10.86, 10.81, 10.76, 10.71, 10.66, 10.61, 10.56, 10.51, 10.46, 10.41,
  10.36, 10.31, 10.26, 10.21, 10.16, 10.11, 10.06, 10.00];
const g22Red = [0.0, 0.02, -0.01, 0.01, 0.0, 0.02, -0.01, 0.01, 0.02, 0.0,
  0.01, -0.01, 0.02, 0.0, 0.01, -0.02, 0.0, 0.02, 0.01, 0.02,
  0.05, 0.2, 0.99, 0.25, 0.08, 0.03, 0.0, 0.02, -0.01, 0.01,
  0.02, 0.0, 0.01, 0.02, -0.01, 0.01, 0.0, 0.02, 0.01, 0.02,
  0.05, 0.36, 0.03, 0.01, 0.0, 0.02, 0.0, 0.02, 0.11, 0.01,
  0.02, 0.0, 0.02, 0.01, 0.03, 0.02, 0.03, 0.02, 0.03, 0.02,
  0.0, 0.78, 2.0, 8, 2.5, 0.5, 0.06, 0.03, 0.02, 0.04,
  0.02, 0.0, 0.01, 0.02, 0.03, 0.18, 0.47, 1.36, 8, 2.0,
  0.6, 0.12, 0.03, 0.02, 0.01, 0.02, 0.0, 0.01, -0.01, 0.01,
  0.0, 0.02, 0.0, 0.01, 0.03, 0.0, 0.02, -0.01, 0.01, 0.0,
  0.02, 0.01, -0.01, 0.01, 0.0, 0.02, 0.0, 0.01];
const g22Black = [0.01, -0.01, 0.01, 0.0, 0.02, 0.0, -0.01, 0.01, 0.0, 0.02,
  0.0, 0.01, -0.01, 0.02, 0.0, 0.01, 0.02, 0.0, 0.04, 0.01,
  0.17, 0.25, 0.55, 0.3, 0.23, 0.12, 0.02, 0.05, 0.0, 0.01,
  -0.01, 0.02, 0.0, 0.01, -0.01, 0.02, 0.0, 0.01, 0.0, 0.01,
  0.08, 0.16, 0.1, 0.02, 0.0, 0.01, 0.02, 0.0, 0.01, 0.02,
  0.0, 0.01, 0.02, 0.0, 0.03, 0.02, 0.03, 0.07, 0.06, -0.08,
  0.0, 0.41, 1.07, 1.53, 1.07, 0.52, 0.18, -0.06, 0.09, 0.18,
  0.06, 0.0, 0.01, 0.02, 0.03, 0.18, 0.47, 1.36, 8, 2.0,
  0.77, 0.18, 0.09, 0.06, 0.03, 0.02, 0.07, 0.0, 0.01, 0.0,
  0.01, -0.01, 0.0, 0.02, 0.0, 0.01, 0.0, 0.02, 0.0, -0.01,
  0.01, 0.0, 0.01, 0.0, 0.02, 0.0, -0.01, 0.0];

const g16Ppm = [14.50, 14.45, 14.40, 14.35, 14.30, 14.25, 14.20, 14.15, 14.10, 14.05,
  14.00, 13.95, 13.90, 13.85, 13.80, 13.75, 13.70, 13.65, 13.60, 13.55,
  13.50, 13.45, 13.40, 13.35, 13.30, 13.25, 13.20, 13.15, 13.10, 13.05,
  13.00, 12.95, 12.90, 12.85, 12.80, 12.75, 12.70, 12.65, 12.60, 12.55,
  12.50, 12.45, 12.40, 12.35, 12.30, 12.25, 12.20, 12.15, 12.10, 12.05,
  12.00, 11.95, 11.90, 11.85, 11.80, 11.76, 11.73, 11.70, 11.65, 11.60,
  11.55, 11.50, 11.45, 11.40, 11.35, 11.30, 11.25, 11.20, 11.15, 11.10,
  11.05, 11.00, 10.95, 10.90, 10.85, 10.80, 10.75, 10.70, 10.65, 10.62,
  10.58, 10.55, 10.51, 10.48, 10.44, 10.41, 10.38, 10.34, 10.31, 10.28,
  10.25, 10.22, 10.18, 10.14, 10.09, 10.05, 10.03, 10.00];
const g16Red = [0.0, 0.03, 0.05, 0.0, 0.06, 0.02, 0.04, -0.01, 0.03, 0.0,
  0.05, 0.02, 0.04, 0.0, 0.03, 0.05, 0.01, 0.04, 0.0, 0.03,
  0.02, 0.05, 0.02, 0.06, 0.03, 0.05, 0.02, 0.04, 0.06, 0.03,
  0.05, 0.02, 0.04, 0.0, 0.03, 0.05, 0.06, 0.13, 0.04, 0.06,
  0.02, 0.05, 0.03, 0.06, 0.02, 0.04, 0.03, 0.05, 0.02, 0.04,
  0.06, 0.03, 0.05, 0.04, 0.08, 0.05, 0.4, 0.05, 0.03, 0.0,
  0.04, 0.02, 0.05, 0.03, 0.06, 0.04, 0.02, 0.05, 0.03, 0.06,
  0.04, 0.03, 0.05, 0.02, 0.06, 0.04, 0.05, 0.07, 0.1, 0.13,
  0.2, 0.25, 0.45, 0.85, 1.05, 0.75, 0.44, 0.8, 2.05, 0.7,
  0.22, 0.12, 0.06, 0.05, 0.03, 0.04, 0.02, -0.02];
const g16Black = [0.02, -0.01, 0.03, 0.0, -0.02, 0.02, 0.01, -0.03, 0.02, 0.0,
  -0.02, 0.01, 0.03, 0.0, 0.02, -0.01, 0.01, 0.02, 0.0, 0.01,
  -0.01, 0.02, 0.0, 0.03, 0.01, 0.04, 0.02, 0.05, 0.01, 0.03,
  0.02, 0.0, 0.03, -0.03, 0.01, 0.02, 0.0, 0.05, 0.02, 0.0,
  0.03, 0.01, 0.02, 0.0, 0.03, 0.01, -0.02, 0.02, 0.0, 0.03,
  -0.08, 0.02, 0.04, 0.03, 0.05, 0.03, 0.3, 0.08, 0.02, 0.01,
  0.03, 0.0, 0.02, 0.04, 0.02, 0.11, 0.01, 0.03, 0.02, 0.04,
  0.02, 0.05, 0.03, 0.02, 0.04, 0.05, 0.05, 0.07, 0.1, 0.13,
  0.2, 0.26, 0.47, 0.9, 1.39, 0.86, 0.44, 0.8, 2.05, 0.7,
  0.22, 0.15, 0.09, 0.07, 0.06, 0.05, 0.02, 0.03];

const g20g30Ppm = [14.50, 14.45, 14.40, 14.35, 14.30, 14.25, 14.20, 14.15, 14.10, 14.05,
  14.00, 13.95, 13.90, 13.85, 13.80, 13.75, 13.70, 13.65, 13.60, 13.55,
  13.50, 13.45, 13.40, 13.35, 13.30, 13.25, 13.20, 13.15, 13.10, 13.05,
  13.00, 12.95, 12.90, 12.85, 12.80, 12.75, 12.70, 12.67, 12.645, 12.62,
  12.58, 12.55, 12.50, 12.45, 12.40, 12.35, 12.30, 12.25, 12.20, 12.15,
  12.10, 12.05, 12.00, 11.95, 11.91, 11.875, 11.84, 11.80, 11.75, 11.72,
  11.69, 11.65, 11.60, 11.55, 11.50, 11.46, 11.42, 11.38, 11.34, 11.30,
  11.25, 11.20, 11.15, 11.10, 11.05, 11.00, 10.95, 10.90, 10.85, 10.80,
  10.75, 10.70, 10.65, 10.60, 10.56, 10.51, 10.47, 10.43, 10.40, 10.37,
  10.35, 10.31, 10.27, 10.25, 10.21, 10.16, 10.10, 10.06, 10.03, 10.00];
const g20g30Red = [0.0, -0.02, 0.01, 0.0, 0.02, -0.01, 0.0, 0.01, -0.02, 0.01,
  0.0, 0.02, -0.01, 0.0, 0.01, 0.02, -0.01, 0.0, 0.02, 0.0,
  -0.02, 0.01, 0.0, 0.02, -0.01, 0.01, 0.0, 0.02, 0.01, 0.0,
  0.02, 0.01, 0.0, 0.02, 0.0, 0.01, 0.02, 0.05, 0.37, 0.05,
  0.03, 0.07, 0.02, 0.0, -0.01, 0.01, 0.0, -0.02, 0.01, 0.0,
  0.02, -0.01, 0.0, 0.01, 0.0, 0.02, 0.03, 0.02, 0.05, 0.91,
  0.05, 0.0, 0.02, 0.01, 0.03, 0.0, 0.01, 0.0, 0.02, 0.0,
  0.01, 0.0, 0.02, 0.0, -0.01, 0.01, 0.02, 0.0, 0.02, 0.03,
  0.0, 0.02, 0.01, 0.03, 0.02, 0.0, 0.03, 0.05, 0.15, 0.5,
  3, 8, 3, 1.05, 0.47, 0.18, 0.09, 0.08, 0.07, 0.05];
const g20g30Black = [0.01, 0.0, 0.02, -0.01, 0.01, 0.0, 0.02, 0.0, 0.01, -0.01,
  0.02, 0.0, 0.01, 0.02, 0.0, -0.01, 0.01, 0.02, 0.0, 0.01,
  0.0, 0.02, 0.01, 0.0, 0.02, 0.01, -0.01, 0.01, 0.02, 0.0,
  0.01, 0.0, 0.02, 0.01, 0.0, 0.02, 0.01, 0.05, 0.15, 0.1,
  0.06, 0.03, 0.02, 0.04, 0.0, 0.02, 0.01, 0.0, 0.02, 0.0,
  0.01, 0.02, -0.01, 0.0, 0.02, 0.05, 0.0, 0.01, 0.05, 0.79,
  0.03, 0.02, 0.0, -0.01, 0.01, -0.04, 0.0, 0.01, 0.02, 0.0,
  0.02, 0.01, 0.0, 0.02, 0.01, 0.0, 0.02, 0.03, 0.01, 0.02,
  0.03, 0.02, 0.04, 0.12, 0.04, 0.09, 0.06, 0.2, 0.23, 0.77,
  3, 8, 3, 1.05, 0.47, 0.18, 0.09, 0.1, 0.1, 0.05];

// y range of each panel (tick marks sit at whole units, 0 = baseline)
const yRanges = [[-0.58, 3.43], [-0.615, 3.63], [-0.67, 3.97],
  [-0.51, 3.06], [-0.37, 2.25], [-0.46, 2.84],
  [-0.46, 2.71], [-0.67, 3.97], [-0.39, 2.36],
  [-0.36, 2.13], [-0.51, 3.08], [-0.35, 2.1]];

const spectra = [
  [u25Ppm, u25Red, u25Black], [u23Ppm, u23Red, u23Black], [g10Ppm, g10Red, g10Black],
  [g21Ppm, g21Red, g21Black], [g35Ppm, g35Red, g35Black], [g24Ppm, g24Red, g24Black],
  [g11Ppm, g11Red, g11Black], [g26Ppm, g26Red, g26Black], [u6u8Ppm, u6u8Red, u6u8Black],
  [g22Ppm, g22Red, g22Black], [g16Ppm, g16Red, g16Black], [g20g30Ppm, g20g30Red, g20g30Black]
];

// ---- layout ----
const colLeft = [12, 400, 789];
const rowTop = [14, 320, 626, 932];
const frameW = 341, frameH = 280;
const padX = 24, padY = 4, axisH = 60;
const FONT = "'Open Sans', sans-serif";
const CAP = 5.2; // distance from div top to cap top at 30px, line-height 1

// where the panel names sit (ink edge x, cap top y)
const nameSpots = [
  { right: 334, cap: 36 }, { right: 726, cap: 36 }, { right: 1111, cap: 36 },
  { right: 332, cap: 339 }, { right: 726, cap: 341 }, { right: 1112, cap: 339 },
  { right: 333, cap: 649 }, { right: 726, cap: 649 }, { left: 806, cap: 649 },
  { right: 334, cap: 953 }, { right: 726, cap: 952 }, { left: 806, cap: 952 }
];
const snrNotes = [
  { text: '~2x SNR', left: 106, cap: 94 },
  { text: '~1.5x SNR', left: 533, cap: 67 },
  { text: '~1.5x<br>SNR', center: 281, cap: 379, two: true },
  { text: '~2x SNR', left: 807, cap: 404 },
  { text: '~1.5x SNR', left: 27, cap: 1019 }
];

Chart.defaults.font.family = FONT;

const frameTicks = {
  id: 'frameTicks',
  afterDatasetsDraw(chart) {
    const { ctx, chartArea: a, scales: { x, y } } = chart;
    ctx.save();
    ctx.strokeStyle = '#3a3a3a';
    ctx.lineWidth = 1.3;
    ctx.beginPath();
    ppmTicks.forEach(v => {
      const px = x.getPixelForValue(v);
      if (px <= a.left + 1 || px >= a.right - 1) return;
      ctx.moveTo(px, a.top); ctx.lineTo(px, a.top + 6);
      ctx.moveTo(px, a.bottom); ctx.lineTo(px, a.bottom - 6);
    });
    for (let v = Math.ceil(y.min); v <= y.max; v++) {
      const py = y.getPixelForValue(v);
      if (py <= a.top + 1 || py >= a.bottom - 1) continue;
      ctx.moveTo(a.left, py); ctx.lineTo(a.left + 6, py);
      ctx.moveTo(a.right, py); ctx.lineTo(a.right - 6, py);
    }
    ctx.stroke();
    ctx.strokeRect(a.left, a.top, a.width, a.height);
    ctx.restore();
  }
};

spectra.forEach((s, i) => {
  const [ppm, red, black] = s;
  if (red.length !== ppm.length || black.length !== ppm.length) {
    console.error(panelNames[i], ppm.length, red.length, black.length);
  }
  const col = i % 3, row = Math.floor(i / 3);
  const bottom = row === 3;
  const cv = document.createElement('canvas');
  const w = frameW + 2 * padX, h = frameH + 2 * padY + (bottom ? axisH : 0);
  cv.width = w; cv.height = h;
  cv.style.left = (colLeft[col] - padX) + 'px';
  cv.style.top = (rowTop[row] - padY) + 'px';
  cv.style.width = w + 'px'; cv.style.height = h + 'px';
  document.body.appendChild(cv);

  const line = { borderWidth: 1.5, pointRadius: 0, tension: 0, fill: false, clip: 0 };
  new Chart(cv, {
    type: 'line',
    data: {
      datasets: [
        Object.assign({ data: ppm.map((x, k) => ({ x, y: black[k] })), borderColor: '#000000', order: 0 }, line),
        Object.assign({ data: ppm.map((x, k) => ({ x, y: red[k] })), borderColor: '#ff0000', order: 1 }, line)
      ]
    },
    options: {
      responsive: false,
      animation: false,
      events: [],
      devicePixelRatio: 1,
      layout: { padding: { left: padX, right: padX, top: padY, bottom: padY } },
      plugins: { legend: { display: false }, tooltip: { enabled: false } },
      scales: {
        x: {
          type: 'linear', min: 10, max: 14.5, reverse: true,
          display: bottom,
          grid: { display: false, drawTicks: false },
          border: { display: false },
          ticks: { font: { size: 31, family: FONT }, color: '#000', padding: 11, maxRotation: 0, autoSkip: false },
          afterBuildTicks(sc) { sc.ticks = ppmTicks.map(v => ({ value: v })); },
          afterFit(sc) {
            if (bottom) sc.height = axisH;
            // the end labels may hang over the frame; keep the plot area fixed
            sc.paddingLeft = 0;
            sc.paddingRight = 0;
          }
        },
        y: { type: 'linear', min: yRanges[i][0], max: yRanges[i][1], display: false }
      }
    },
    plugins: [frameTicks]
  });

  // panel name
  const spot = nameSpots[i];
  const nm = document.createElement('div');
  nm.className = 'lbl';
  nm.textContent = panelNames[i];
  nm.style.top = (spot.cap - CAP) + 'px';
  if (spot.left !== undefined) nm.style.left = spot.left + 'px';
  else nm.style.right = (1150 - spot.right) + 'px';
  document.body.appendChild(nm);
});

snrNotes.forEach(n => {
  const d = document.createElement('div');
  d.className = 'lbl snr' + (n.two ? ' two' : '');
  d.innerHTML = n.text;
  if (n.two) {
    d.style.top = (n.cap - 8.7) + 'px';
    d.style.left = (n.center - 70) + 'px';
  } else {
    d.style.top = (n.cap - CAP) + 'px';
    d.style.left = n.left + 'px';
  }
  document.body.appendChild(d);
});

colLeft.forEach(l => {
  const t = document.createElement('div');
  t.className = 'axt';
  t.textContent = '\u00B9H / ppm';
  t.style.left = (l + frameW / 2 - 120) + 'px';
  t.style.top = (1264 - CAP) + 'px';
  document.body.appendChild(t);
});
</script>
</body>
</html>
